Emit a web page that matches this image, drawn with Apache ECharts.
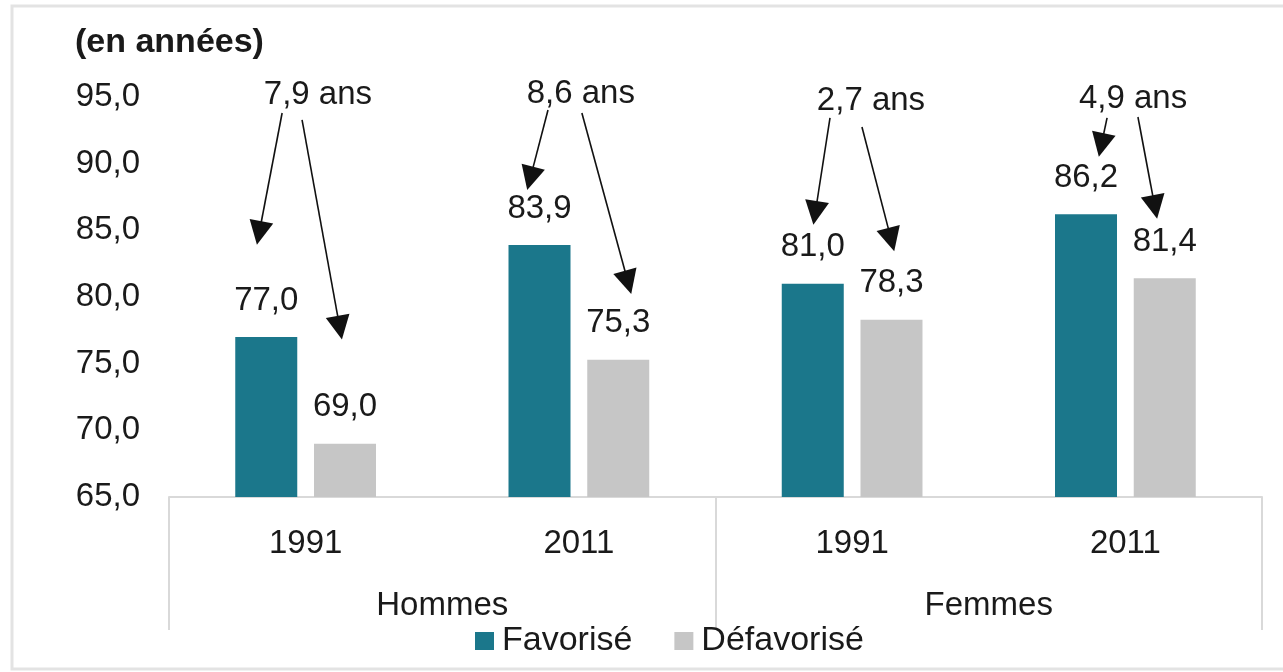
<!DOCTYPE html>
<html>
<head>
<meta charset="utf-8">
<title>Espérance de vie</title>
<script src="https://cdn.jsdelivr.net/npm/echarts@6/dist/echarts.min.js"></script>
<style>
  html, body { margin: 0; padding: 0; background: #fff; }
  #chart { width: 1283px; height: 672px; }
</style>
</head>
<body>
<div id="chart"></div>
<script>
const categories = ['1991', '2011', '1991', '2011']
const groups = ['Hommes', 'Femmes']
const favorise = [77.0, 83.9, 81.0, 86.2]
const defavorise = [69.0, 75.3, 78.3, 81.4]
const yMin = 65
const yMax = 95
const yStep = 5

// ecarts + position of the note text (x in category units, y in years)
const ecarts = ['7,9 ans', '8,6 ans', '2,7 ans', '4,9 ans']
const ecartPos = [[0.545, 95.15], [1.507, 95.2], [2.569, 94.7], [3.528, 94.85]]
// arrows from the note down to the labels: [start, end]
const arrows = [
  [[0.414, 93.8], [0.330, 84.8]],
  [[0.487, 93.28], [0.625, 77.7]],
  [[1.387, 94.03], [1.322, 88.9]],
  [[1.511, 93.8], [1.680, 81.1]],
  [[2.419, 93.43], [2.365, 86.3]],
  [[2.536, 92.75], [2.643, 84.3]],
  [[3.433, 93.43], [3.412, 91.4]],
  [[3.546, 93.5], [3.608, 86.75]]
]

const font = 'Liberation Sans, Arial, sans-serif'
const textColor = '#1a1a1a'
const color = ['#1b778b', '#c6c6c6']

function fmt(v) {
  return Number(v).toFixed(1).replace('.', ',')
}

const chart = echarts.init(document.getElementById('chart'))

const barLabel = {
  show: true,
  position: 'top',
  distance: 20,
  fontSize: 33,
  fontFamily: font,
  color: textColor,
  formatter: function(p) { return fmt(p.value) }
}

const option = {
  animation: false,
  textStyle: { fontFamily: font },
  graphic: [{
    type: 'rect',
    shape: { x: 12, y: 6, width: 1290, height: 663 },
    style: { fill: 'none', stroke: '#e3e3e3', lineWidth: 3 },
    silent: true
  }],
  title: {
    text: '(en années)',
    left: 75,
    top: 26,
    padding: 0,
    textStyle: { fontSize: 34, fontWeight: 'bold', color: textColor, fontFamily: font }
  },
  legend: {
    data: ['Favorisé', 'Défavorisé'],
    left: 475,
    top: 624,
    padding: 0,
    icon: 'rect',
    itemWidth: 19,
    itemHeight: 18,
    itemGap: 42,
    textStyle: { fontSize: 34, color: textColor, fontFamily: font, padding: [0, 0, 0, 3] }
  },
  grid: {
    left: 169,
    right: 21,
    top: 97,
    bottom: 175
  },
  xAxis: [{
    type: 'category',
    data: categories,
    axisLine: { lineStyle: { color: '#d9d9d9', width: 2 } },
    axisTick: { show: false },
    axisLabel: { fontSize: 33, color: textColor, margin: 30, fontFamily: font }
  }, {
    type: 'category',
    data: groups,
    position: 'bottom',
    axisLine: { show: false },
    axisTick: { show: true, length: 133, lineStyle: { color: '#d9d9d9', width: 2 } },
    axisLabel: { fontSize: 33, color: textColor, margin: 92, fontFamily: font }
  }, {
    type: 'value',
    min: 0,
    max: categories.length,
    show: false
  }],
  yAxis: {
    type: 'value',
    min: yMin,
    max: yMax,
    interval: yStep,
    axisLine: { show: false },
    axisTick: { show: false },
    splitLine: { show: false },
    axisLabel: {
      fontSize: 33,
      color: textColor,
      margin: 29,
      fontFamily: font,
      formatter: fmt
    }
  },
  series: [{
    name: 'Favorisé',
    type: 'bar',
    data: favorise,
    barWidth: 62,
    barGap: '27%',
    itemStyle: { color: color[0] },
    label: barLabel,
    silent: true
  }, {
    name: 'Défavorisé',
    type: 'bar',
    data: defavorise,
    barWidth: 62,
    barGap: '27%',
    itemStyle: { color: color[1] },
    label: barLabel,
    silent: true
  }, {
    name: 'ecarts',
    type: 'scatter',
    xAxisIndex: 2,
    clip: false,
    symbol: 'circle',
    symbolSize: 0,
    silent: true,
    itemStyle: { opacity: 1, color: '#111' },
    data: ecartPos,
    label: {
      show: true,
      position: 'inside',
      fontSize: 33,
      color: textColor,
      fontFamily: font,
      formatter: function(p) { return ecarts[p.dataIndex] }
    },
    markLine: {
      silent: true,
      symbol: ['none', 'triangle'],
      symbolSize: 24,
      label: { show: false },
      lineStyle: { color: '#111', width: 1.6, type: 'solid', opacity: 1 },
      itemStyle: { color: '#111' },
      data: arrows.map(function(a) {
        return [
          { coord: a[0], symbol: 'none' },
          { coord: a[1], symbol: 'triangle', symbolSize: 24 }
        ]
      })
    }
  }]
}

chart.setOption(option)
</script>
</body>
</html>
